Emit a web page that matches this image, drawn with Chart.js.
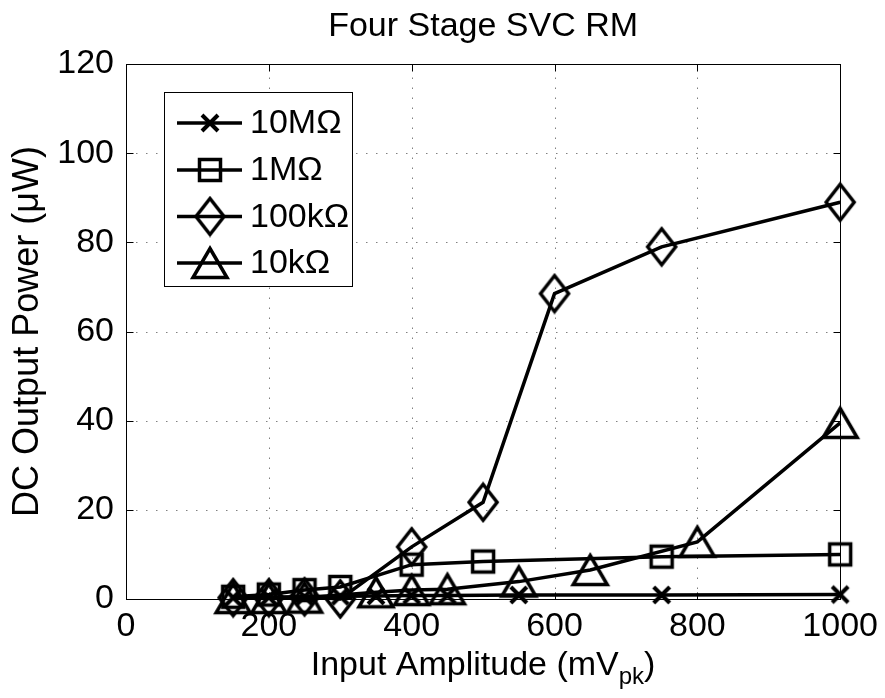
<!DOCTYPE html>
<html><head><meta charset="utf-8">
<script src="https://cdn.jsdelivr.net/npm/chart.js@4/dist/chart.umd.min.js"></script>
<style>html,body{margin:0;padding:0;background:#fff;}#wrap{width:885px;height:698px;}</style>
</head><body><div id="wrap"><canvas id="c" width="885" height="698"></canvas></div>
<script>
// ---------- data ----------
const titleText = 'Four Stage SVC RM';
const yAxisLabel = 'DC Output Power (\u03bcW)';
const xAxisMain = 'Input Amplitude (mV';
const xAxisSub = 'pk';
const xAxisEnd = ')';
const xTicks = [0, 200, 400, 600, 800, 1000];
const yTicks = [0, 20, 40, 60, 80, 100, 120];
const seriesNames = ['10M\u03a9', '1M\u03a9', '100k\u03a9', '10k\u03a9'];

const x10M = [150, 200, 250, 300, 350, 400, 450, 550, 750, 1000];
const y10M = [0.3, 0.4, 0.5, 0.6, 0.7, 0.8, 0.8, 0.9, 0.9, 1.0];

const x1M = [150, 200, 250, 300, 400, 500, 750, 1000];
const y1M = [0.5, 1.0, 2.0, 2.7, 7.7, 8.4, 9.5, 10.0];

const x100k = [150, 200, 250, 300, 400, 500, 600, 750, 1000];
const y100k = [0.3, 0.3, 0.5, 0.0, 11.7, 21.7, 68.5, 79.0, 89.0];

const x10k = [150, 200, 250, 350, 400, 450, 550, 650, 800, 1000];
const y10k = [0.2, 0.2, 0.3, 1.5, 2.0, 2.2, 3.9, 6.5, 12.8, 39.5];

// ---------- markers ----------
function makeMarker(kind) {
  const c = document.createElement('canvas');
  let w, h;
  if (kind === 'x') { w = 24; h = 24; }
  else if (kind === 'square') { w = 28; h = 28; }
  else if (kind === 'diamond') { w = 34; h = 42; }
  else { w = 42; h = 38; }
  c.width = w; c.height = h;
  const g = c.getContext('2d');
  g.strokeStyle = '#000';
  g.lineJoin = 'miter';
  g.lineWidth = 3.5;
  g.beginPath();
  if (kind === 'x') {
    g.lineWidth = 4;
    g.moveTo(4, 4); g.lineTo(20, 20);
    g.moveTo(20, 4); g.lineTo(4, 20);
  } else if (kind === 'square') {
    g.rect(3.5, 3.5, 21, 21);
  } else if (kind === 'diamond') {
    g.moveTo(17, 3); g.lineTo(31, 21); g.lineTo(17, 39); g.lineTo(3, 21); g.closePath();
  } else {
    g.moveTo(21, 4.5); g.lineTo(38, 33.5); g.lineTo(4, 33.5); g.closePath();
  }
  g.stroke();
  return c;
}
const markers = [makeMarker('x'), makeMarker('square'), makeMarker('diamond'), makeMarker('triangle')];

const FONT = "'Liberation Sans', Arial, Helvetica, sans-serif";
const xsAll = [x10M, x1M, x100k, x10k];
const ysAll = [y10M, y1M, y100k, y10k];

const datasets = seriesNames.map((name, k) => ({
  label: name,
  data: xsAll[k].map((x, i) => ({ x: x, y: ysAll[k][i] })),
  borderColor: '#000',
  backgroundColor: 'rgba(0,0,0,0)',
  borderWidth: 3.5,
  pointStyle: markers[k],
  pointRadius: 12,
  pointHoverRadius: 12,
  tension: 0,
  fill: false,
  clip: false
}));

const decor = {
  id: 'decor',
  beforeDatasetsDraw(chart) {
    const ctx = chart.ctx, a = chart.chartArea;
    const xs = chart.scales.x, ys = chart.scales.y;
    ctx.save();
    ctx.strokeStyle = '#808080';
    ctx.lineWidth = 1;
    ctx.setLineDash([1.5, 8.5]);
    xTicks.forEach(v => {
      if (v === xTicks[0] || v === xTicks[xTicks.length - 1]) return;
      const px = Math.round(xs.getPixelForValue(v)) + 0.5;
      ctx.beginPath(); ctx.moveTo(px, a.bottom); ctx.lineTo(px, a.top); ctx.stroke();
    });
    yTicks.forEach(v => {
      if (v === yTicks[0] || v === yTicks[yTicks.length - 1]) return;
      const py = Math.round(ys.getPixelForValue(v)) + 0.5;
      ctx.beginPath(); ctx.moveTo(a.left, py); ctx.lineTo(a.right, py); ctx.stroke();
    });
    ctx.setLineDash([]);
    ctx.strokeStyle = '#000';
    ctx.lineWidth = 1;
    const L = Math.round(a.left) + 0.5, R = Math.round(a.right) + 0.5;
    const T = Math.round(a.top) + 0.5, B = Math.round(a.bottom) + 0.5;
    ctx.strokeRect(L, T, R - L, B - T);
    const tl = 7;
    xTicks.forEach(v => {
      const px = Math.round(xs.getPixelForValue(v)) + 0.5;
      ctx.beginPath();
      ctx.moveTo(px, B); ctx.lineTo(px, B - tl);
      ctx.moveTo(px, T); ctx.lineTo(px, T + tl);
      ctx.stroke();
    });
    yTicks.forEach(v => {
      const py = Math.round(ys.getPixelForValue(v)) + 0.5;
      ctx.beginPath();
      ctx.moveTo(L, py); ctx.lineTo(L + tl, py);
      ctx.moveTo(R, py); ctx.lineTo(R - tl, py);
      ctx.stroke();
    });
    ctx.restore();
  },
  afterDraw(chart) {
    const ctx = chart.ctx, a = chart.chartArea;
    const cx = (a.left + a.right) / 2, cy = (a.top + a.bottom) / 2;
    ctx.save();
    ctx.fillStyle = '#000';
    // title
    ctx.font = '34px ' + FONT;
    ctx.textAlign = 'center';
    ctx.textBaseline = 'alphabetic';
    ctx.fillText(titleText, cx, 36);
    // x label with subscript
    const mainW = ctx.measureText(xAxisMain).width;
    const endW = ctx.measureText(xAxisEnd).width;
    ctx.font = '24px ' + FONT;
    const subW = ctx.measureText(xAxisSub).width;
    const total = mainW + subW + endW;
    let sx = cx - total / 2;
    ctx.textAlign = 'left';
    ctx.font = '34px ' + FONT;
    ctx.fillText(xAxisMain, sx, 675);
    ctx.font = '24px ' + FONT;
    ctx.fillText(xAxisSub, sx + mainW, 684);
    ctx.font = '34px ' + FONT;
    ctx.fillText(xAxisEnd, sx + mainW + subW, 675);
    // y label
    ctx.save();
    ctx.translate(38, cy);
    ctx.rotate(-Math.PI / 2);
    ctx.textAlign = 'center';
    ctx.font = '36px ' + FONT;
    ctx.fillText(yAxisLabel, 0, 0);
    ctx.restore();
    // legend
    const bx = 164.5, by = 92.5, bw = 188, bh = 194;
    ctx.fillStyle = '#fff';
    ctx.fillRect(bx, by, bw, bh);
    ctx.strokeStyle = '#000';
    ctx.lineWidth = 1;
    ctx.strokeRect(bx, by, bw, bh);
    const rows = [123, 170, 216.5, 263];
    ctx.font = '34px ' + FONT;
    ctx.textAlign = 'left';
    ctx.textBaseline = 'middle';
    chart.data.datasets.forEach((ds, k) => {
      const ry = rows[k];
      ctx.strokeStyle = '#000';
      ctx.lineWidth = 3.5;
      ctx.beginPath(); ctx.moveTo(177, ry); ctx.lineTo(242, ry); ctx.stroke();
      const m = ds.pointStyle;
      ctx.drawImage(m, 210 - m.width / 2, ry - m.height / 2);
      ctx.fillStyle = '#000';
      ctx.fillText(ds.label, 250, ry + 1);
    });
    ctx.restore();
  }
};

new Chart(document.getElementById('c'), {
  type: 'line',
  data: { datasets: datasets },
  options: {
    responsive: false,
    devicePixelRatio: 1,
    animation: false,
    layout: { padding: { left: 0, right: 44, top: 64, bottom: 0 } },
    plugins: { legend: { display: false }, title: { display: false }, tooltip: { enabled: false } },
    events: [],
    scales: {
      x: {
        type: 'linear', min: 0, max: 1000,
        afterBuildTicks: s => { s.ticks = xTicks.map(v => ({ value: v })); },
        afterFit: s => { s.height = 99; },
        ticks: { font: { family: FONT, size: 34 }, color: '#000', padding: 7, maxRotation: 0, autoSkip: false, callback: v => String(v) },
        grid: { display: false, drawTicks: false },
        border: { display: false }
      },
      y: {
        type: 'linear', min: 0, max: 120,
        afterBuildTicks: s => { s.ticks = yTicks.map(v => ({ value: v })); },
        afterFit: s => { s.width = 126; },
        ticks: { font: { family: FONT, size: 34 }, color: '#000', padding: 12, autoSkip: false, callback: v => String(v) },
        grid: { display: false, drawTicks: false },
        border: { display: false }
      }
    }
  },
  plugins: [decor]
});
</script>
</body></html>
